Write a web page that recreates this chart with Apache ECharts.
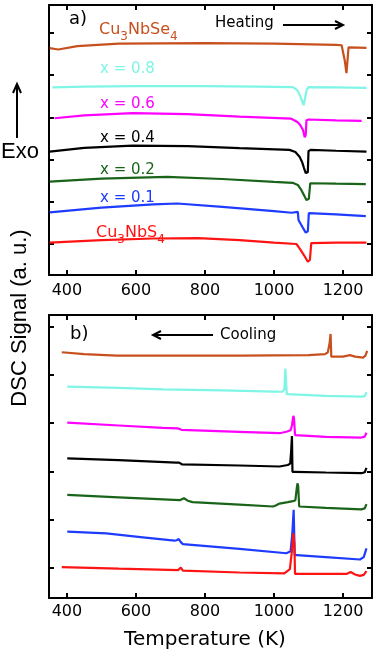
<!DOCTYPE html>
<html>
<head>
<meta charset="utf-8">
<script src="https://cdn.jsdelivr.net/npm/echarts@6.0.0/dist/echarts.min.js"></script>
<style>
  html, body { margin: 0; padding: 0; background: #fff; }
  #chart { width: 380px; height: 655px; }
</style>
</head>
<body>
<div id="chart"></div>
<script>
// 刻度
var xTicks = [400, 600, 800, 1000, 1200];
var yTicksA = [0, 1, 2, 3, 4, 5];
var yTicksB = [0, 1, 2, 3, 4, 5];

// a) 加热 [T, 信号]
var heatSe = [[350,4.64],[375,4.61],[430,4.69],[550,4.75],[800,4.76],[1000,4.75],[1180,4.72],[1196,4.71],[1205,4.35],[1210,4.05],[1213,4.35],[1216,4.66],[1268,4.65]];
var heat08 = [[358,3.71],[450,3.73],[600,3.74],[800,3.74],[950,3.73],[1055,3.72],[1068,3.64],[1076,3.50],[1086,3.29],[1090,3.30],[1095,3.66],[1100,3.72],[1180,3.71],[1268,3.70]];
var heat06 = [[364,2.98],[450,3.05],[590,3.10],[750,3.08],[900,3.02],[1050,2.97],[1068,2.89],[1076,2.82],[1084,2.70],[1089,2.53],[1092,2.58],[1094,2.93],[1100,2.95],[1180,2.93],[1254,2.92]];
var heat04 = [[350,2.19],[450,2.28],[590,2.33],[750,2.32],[900,2.27],[1045,2.23],[1062,2.18],[1074,2.07],[1082,1.93],[1087,1.80],[1092,1.68],[1098,1.70],[1100,2.20],[1106,2.23],[1180,2.21],[1268,2.19]];
var heat02 = [[350,1.48],[500,1.55],[690,1.59],[850,1.54],[1000,1.47],[1054,1.45],[1069,1.40],[1079,1.28],[1088,1.14],[1094,1.04],[1101,1.07],[1105,1.44],[1180,1.43],[1266,1.42]];
var heat01 = [[350,0.75],[500,0.86],[650,0.94],[720,0.96],[850,0.88],[1000,0.78],[1051,0.74],[1069,0.76],[1071,0.57],[1082,0.41],[1092,0.27],[1098,0.30],[1101,0.73],[1180,0.70],[1266,0.66]];
var heatS  = [[350,0.03],[500,0.09],[650,0.13],[780,0.14],[900,0.09],[1000,0.03],[1065,0.00],[1072,-0.08],[1077,-0.14],[1088,-0.28],[1098,-0.42],[1104,-0.38],[1108,0.02],[1180,0.03],[1268,0.03]];

// b) 冷却
var coolSe = [[385,4.47],[450,4.43],[544,4.40],[700,4.40],[900,4.40],[1100,4.41],[1148,4.43],[1156,4.47],[1161,4.65],[1164,4.85],[1166,4.38],[1200,4.38],[1220,4.41],[1235,4.38],[1258,4.36],[1265,4.40],[1270,4.50]];
var cool08 = [[401,3.755],[550,3.73],[678,3.70],[850,3.68],[1000,3.655],[1024,3.65],[1030,3.70],[1033,4.13],[1035,4.10],[1037,3.60],[1040,3.58],[1150,3.565],[1253,3.55],[1263,3.56],[1268,3.64]];
var cool06 = [[401,3.01],[550,2.95],[678,2.90],[722,2.89],[732,2.86],[900,2.82],[1016,2.79],[1036,2.82],[1048,2.85],[1052,2.95],[1056,3.15],[1058,3.10],[1061,2.75],[1065,2.73],[1150,2.715],[1253,2.70],[1263,2.72],[1268,2.80]];
var cool04 = [[401,2.27],[550,2.23],[717,2.18],[725,2.18],[733,2.145],[900,2.12],[1016,2.10],[1040,2.13],[1047,2.16],[1050,2.45],[1052,2.73],[1053.5,1.99],[1060,1.99],[1150,1.975],[1253,1.96],[1263,1.98],[1268,2.07]];
var cool02 = [[401,1.51],[550,1.46],[727,1.40],[733,1.42],[739,1.44],[750,1.39],[764,1.36],[900,1.31],[997,1.27],[1005,1.29],[1016,1.33],[1040,1.36],[1055,1.38],[1062,1.40],[1066,1.65],[1068,1.75],[1070,1.70],[1073,1.27],[1150,1.24],[1253,1.21],[1263,1.23],[1268,1.32]];
var cool01 = [[401,0.75],[514,0.71],[620,0.63],[712,0.56],[718,0.57],[724,0.595],[730,0.53],[736,0.49],[900,0.39],[1036,0.30],[1048,0.34],[1053,0.70],[1057,1.20],[1060,0.26],[1066,0.26],[1150,0.22],[1249,0.17],[1260,0.22],[1268,0.40]];
var coolS  = [[385,0.01],[550,-0.02],[722,-0.05],[730,0.00],[736,-0.06],[741,-0.08],[900,-0.10],[1030,-0.12],[1046,-0.03],[1052,0.35],[1056,0.72],[1059,0.50],[1061,-0.13],[1070,-0.13],[1210,-0.13],[1222,-0.09],[1235,-0.14],[1249,-0.17],[1260,-0.15],[1268,-0.07]];

var cSe = '#c8501e', c08 = '#7ff5e6', c06 = '#ff00ff', c04 = '#000000',
    c02 = '#1a641a', c01 = '#1e3cff', cS = '#ff1414';

var myChart = echarts.init(document.getElementById('chart'), null, {renderer: 'canvas'});

var axisLine = {show: true, onZero: false, lineStyle: {color: '#000', width: 2}};

function xAx(grid, pos, label) {
    return {
        type: 'value', gridIndex: grid, position: pos, min: 348, max: 1284,
        axisLine: axisLine,
        axisTick: {show: true, inside: true, length: 5, customValues: xTicks, lineStyle: {color: '#000', width: 2}},
        axisLabel: {show: label, customValues: xTicks, margin: grid === 0 ? 8 : 6,
            fontFamily: 'DejaVu Sans', fontSize: 16, color: '#000',
            formatter: function (v) { return String(v); }},
        splitLine: {show: false}
    };
}

function yAx(grid, pos, min, max, ticks) {
    return {
        type: 'value', gridIndex: grid, position: pos, min: min, max: max,
        axisLine: axisLine,
        axisTick: {show: true, inside: true, length: 5, customValues: ticks, lineStyle: {color: '#000', width: 2}},
        axisLabel: {show: false},
        splitLine: {show: false}
    };
}

function line(data, color, xi, yi) {
    return {
        type: 'line', data: data, xAxisIndex: xi, yAxisIndex: yi,
        showSymbol: false, symbol: 'none', animation: false,
        lineStyle: {color: color, width: 2.2}
    };
}

function sub(txt, color) {
    return {
        type: 'text',
        style: {
            text: txt, fill: color,
            rich: {
                n: {fontFamily: 'DejaVu Sans', fontSize: 16, lineHeight: 26, fill: color},
                s: {fontFamily: 'DejaVu Sans', fontSize: 12, lineHeight: 12, verticalAlign: 'bottom', fill: color}
            },
            textVerticalAlign: 'middle'
        }
    };
}

function txt(t, x, y, color, size, family, align) {
    return {
        type: 'text', x: x, y: y,
        style: {text: t, fill: color, fontSize: size, fontFamily: family || 'DejaVu Sans',
            textAlign: align || 'left', textVerticalAlign: 'middle'}
    };
}

var labSe = sub('{n|Cu}{s|3}{n|NbSe}{s|4}', cSe); labSe.x = 99; labSe.y = 30;
var labS = sub('{n|Cu}{s|3}{n|NbS}{s|4}', cS); labS.x = 96; labS.y = 233;

var option = {
    backgroundColor: '#fff',
    animation: false,
    grid: [
        {left: 49, right: 8, top: 5, height: 270},
        {left: 49, right: 8, top: 315, height: 283}
    ],
    xAxis: [xAx(0, 'bottom', true), xAx(0, 'top', false), xAx(1, 'bottom', true), xAx(1, 'top', false)],
    yAxis: [
        yAx(0, 'left', -0.735, 5.664, yTicksA), yAx(0, 'right', -0.735, 5.664, yTicksA),
        yAx(1, 'left', -0.629, 5.243, yTicksB), yAx(1, 'right', -0.629, 5.243, yTicksB)
    ],
    series: [
        line(heatSe, cSe, 0, 0), line(heat08, c08, 0, 0), line(heat06, c06, 0, 0),
        line(heat04, c04, 0, 0), line(heat02, c02, 0, 0), line(heat01, c01, 0, 0),
        line(heatS, cS, 0, 0),
        line(coolSe, cSe, 2, 2), line(cool08, c08, 2, 2), line(cool06, c06, 2, 2),
        line(cool04, c04, 2, 2), line(cool02, c02, 2, 2), line(cool01, c01, 2, 2),
        line(coolS, cS, 2, 2)
    ],
    graphic: [
        txt('a)', 69, 19, '#000', 18),
        txt('Heating', 215, 23, '#000', 15),
        {type: 'line', shape: {x1: 283, y1: 25, x2: 343, y2: 25}, style: {stroke: '#000', lineWidth: 2}},
        {type: 'polyline', shape: {points: [[335, 21], [343, 25], [335, 29]]}, style: {stroke: '#000', lineWidth: 2, fill: null}},
        labSe,
        txt('x = 0.8', 100, 69, c08, 15),
        txt('x = 0.6', 100, 104, c06, 15),
        txt('x = 0.4', 100, 138, c04, 15),
        txt('x = 0.2', 100, 170, c02, 15),
        txt('x = 0.1', 100, 198, c01, 15),
        labS,
        txt('b)', 70, 334, '#000', 18),
        txt('Cooling', 220, 335, '#000', 15),
        {type: 'line', shape: {x1: 213, y1: 335, x2: 153, y2: 335}, style: {stroke: '#000', lineWidth: 2}},
        {type: 'polyline', shape: {points: [[161, 331], [153, 335], [161, 339]]}, style: {stroke: '#000', lineWidth: 2, fill: null}},
        // Exo 箭头
        {type: 'line', shape: {x1: 17, y1: 138, x2: 17, y2: 84}, style: {stroke: '#000', lineWidth: 2}},
        {type: 'polyline', shape: {points: [[13, 93], [17, 84], [21, 93]]}, style: {stroke: '#000', lineWidth: 2, fill: null}},
        txt('Exo', 20, 152, '#000', 22, 'Liberation Sans', 'center'),
        {
            type: 'text', x: 20, y: 318, rotation: Math.PI / 2,
            style: {text: 'DSC Signal (a. u.)', fill: '#000', fontSize: 22, fontFamily: 'Liberation Sans',
                textAlign: 'center', textVerticalAlign: 'middle'}
        },
        txt('Temperature (K)', 205, 640, '#000', 20, 'DejaVu Sans', 'center')
    ]
};

myChart.setOption(option);
</script>
</body>
</html>
